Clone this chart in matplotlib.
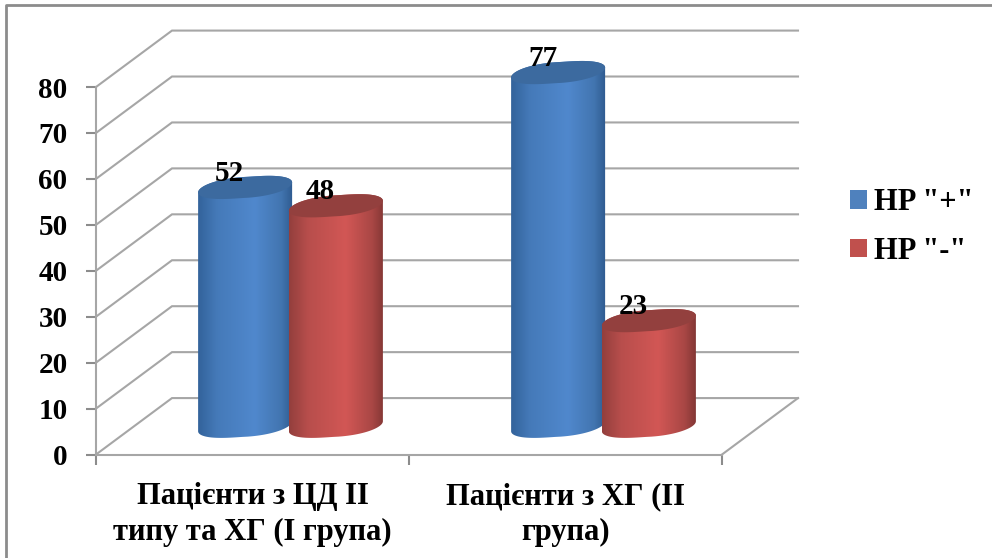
import numpy as np
import matplotlib
matplotlib.use('Agg')
import matplotlib.pyplot as plt
from matplotlib.colors import LinearSegmentedColormap
from matplotlib.patches import Patch, Polygon

categories = ['Пацієнти з ЦД ІІ\nтипу та ХГ (І група)', 'Пацієнти з ХГ (ІІ\nгрупа)']
series_names = ['HP "+"', 'HP "-"']
hp_plus = [52, 77]
hp_minus = [48, 23]
y_ticks = [0, 10, 20, 30, 40, 50, 60, 70, 80]

plt.rcParams['font.family'] = ['Liberation Serif', 'DejaVu Serif']

W, H = 992, 558
fig = plt.figure(figsize=(W / 100, H / 100), dpi=100, facecolor='white')

# frame of the pasted picture
fig.add_artist(plt.Line2D([6 / W, 6 / W, 1], [0, 1 - 5 / H, 1 - 5 / H], color='#8c8c8c', lw=2))

ax = fig.add_axes([96 / W, 1 - 454.5 / H, 626 / W, 367.5 / H])
ax.set_xlim(0, 2)
ax.set_ylim(0, 80)
ax.patch.set_visible(False)

grey = '#a6a6a6'
for s in ['top', 'right']:
    ax.spines[s].set_visible(False)
for s in ['left', 'bottom']:
    ax.spines[s].set_color(grey)
    ax.spines[s].set_linewidth(1.5)

ax.set_yticks(y_ticks)
ax.tick_params(axis='y', length=7, width=1.5, color='#8c8c8c', labelsize=21, pad=13.5)
ax.set_xticks([0, 1, 2])
ax.set_xticklabels([])
ax.set_xticks([0.5, 1.5], minor=True)
ax.set_xticklabels(categories, minor=True, fontsize=22, fontweight='bold', linespacing=1.32)
ax.tick_params(axis='x', which='major', length=7, width=1.5, color='#8c8c8c')
ax.tick_params(axis='x', which='minor', length=0, pad=20)
for t in ax.get_yticklabels():
    t.set_fontweight('bold')

# 3d box depth, in data units
depth_x = 76 / 313
depth_y = 56.5 / 4.6

for v in y_ticks:
    ax.plot([0, depth_x, 2 + depth_x], [v, v + depth_y, v + depth_y], color=grey, lw=1.5,
            clip_on=False, zorder=1, solid_joinstyle='miter')
ax.plot([2, 2 + depth_x], [0, depth_y], color=grey, lw=1.5, clip_on=False, zorder=1)

blue_cmap = LinearSegmentedColormap.from_list(
    'b', [(0, '#33639b'), (0.2, '#457ab9'), (0.6, '#5088cd'), (0.88, '#4275b0'), (1, '#2f5b90')])
red_cmap = LinearSegmentedColormap.from_list(
    'r', [(0, '#933f3d'), (0.2, '#b84e4c'), (0.6, '#d25755'), (0.88, '#a94745'), (1, '#843735')])
blue_top = '#3c6a9f'
red_top = '#93403e'

half_w = 47 / 313
ell_b = 10.5 / 4.6
ell_tilt = 5 / 4.6
offset = 0.145
bar_z = 3


def round_cos(t):
    # slightly squarer than a true ellipse, the ends of the tops are fat
    c = np.cos(t)
    return np.sign(c) * np.abs(c) ** 0.8


def cylinder(pos, value, cmap, top_color):
    cx = pos + depth_x / 2
    base = depth_y / 2
    top = base + value
    t_low = np.linspace(np.pi, 2 * np.pi, 60)
    t_up = np.linspace(0, np.pi, 60)
    x_low = cx + half_w * round_cos(t_low)
    y_low = base + ell_tilt * np.cos(t_low) + ell_b * np.sin(t_low)
    x_up = cx + half_w * round_cos(t_up)
    y_up = top + ell_tilt * np.cos(t_up) + ell_b * np.sin(t_up)
    body = Polygon(np.column_stack([np.r_[x_low, x_up], np.r_[y_low, y_up]]), closed=True,
                   facecolor='none', edgecolor='none', clip_on=False)
    ax.add_patch(body)
    img = ax.imshow(np.linspace(0, 1, 128).reshape(1, -1), cmap=cmap, aspect='auto', zorder=bar_z,
                    extent=[cx - half_w, cx + half_w, base - 5, top + 5], interpolation='bilinear')
    img.set_clip_box(fig.bbox)
    img.set_clip_path(body)
    t = np.linspace(0, 2 * np.pi, 120)
    ax.fill(cx + half_w * round_cos(t), top + ell_tilt * np.cos(t) + ell_b * np.sin(t),
            color=top_color, zorder=bar_z, clip_on=False, lw=0)
    ax.annotate(str(value), xy=(cx, top), xytext=(-11, 10), textcoords='offset points', ha='center',
                va='center', fontsize=21, fontweight='bold', color='black', zorder=10,
                annotation_clip=False)


for i in range(len(categories)):
    cylinder(i + 0.5 - offset, hp_plus[i], blue_cmap, blue_top)
    cylinder(i + 0.5 + offset, hp_minus[i], red_cmap, red_top)

ax.set_xlim(0, 2)
ax.set_ylim(0, 80)

handles = [Patch(facecolor='#4f81bd', edgecolor='none'), Patch(facecolor='#c0504d', edgecolor='none')]
fig.legend(handles, series_names, loc='center left', bbox_to_anchor=(822.5 / W, 1 - 227 / H), frameon=False,
           handlelength=0.55, handleheight=0.55, handletextpad=0.22, labelspacing=0.63,
           prop={'weight': 'bold', 'size': 22})

fig.savefig('out.png', dpi=100)
